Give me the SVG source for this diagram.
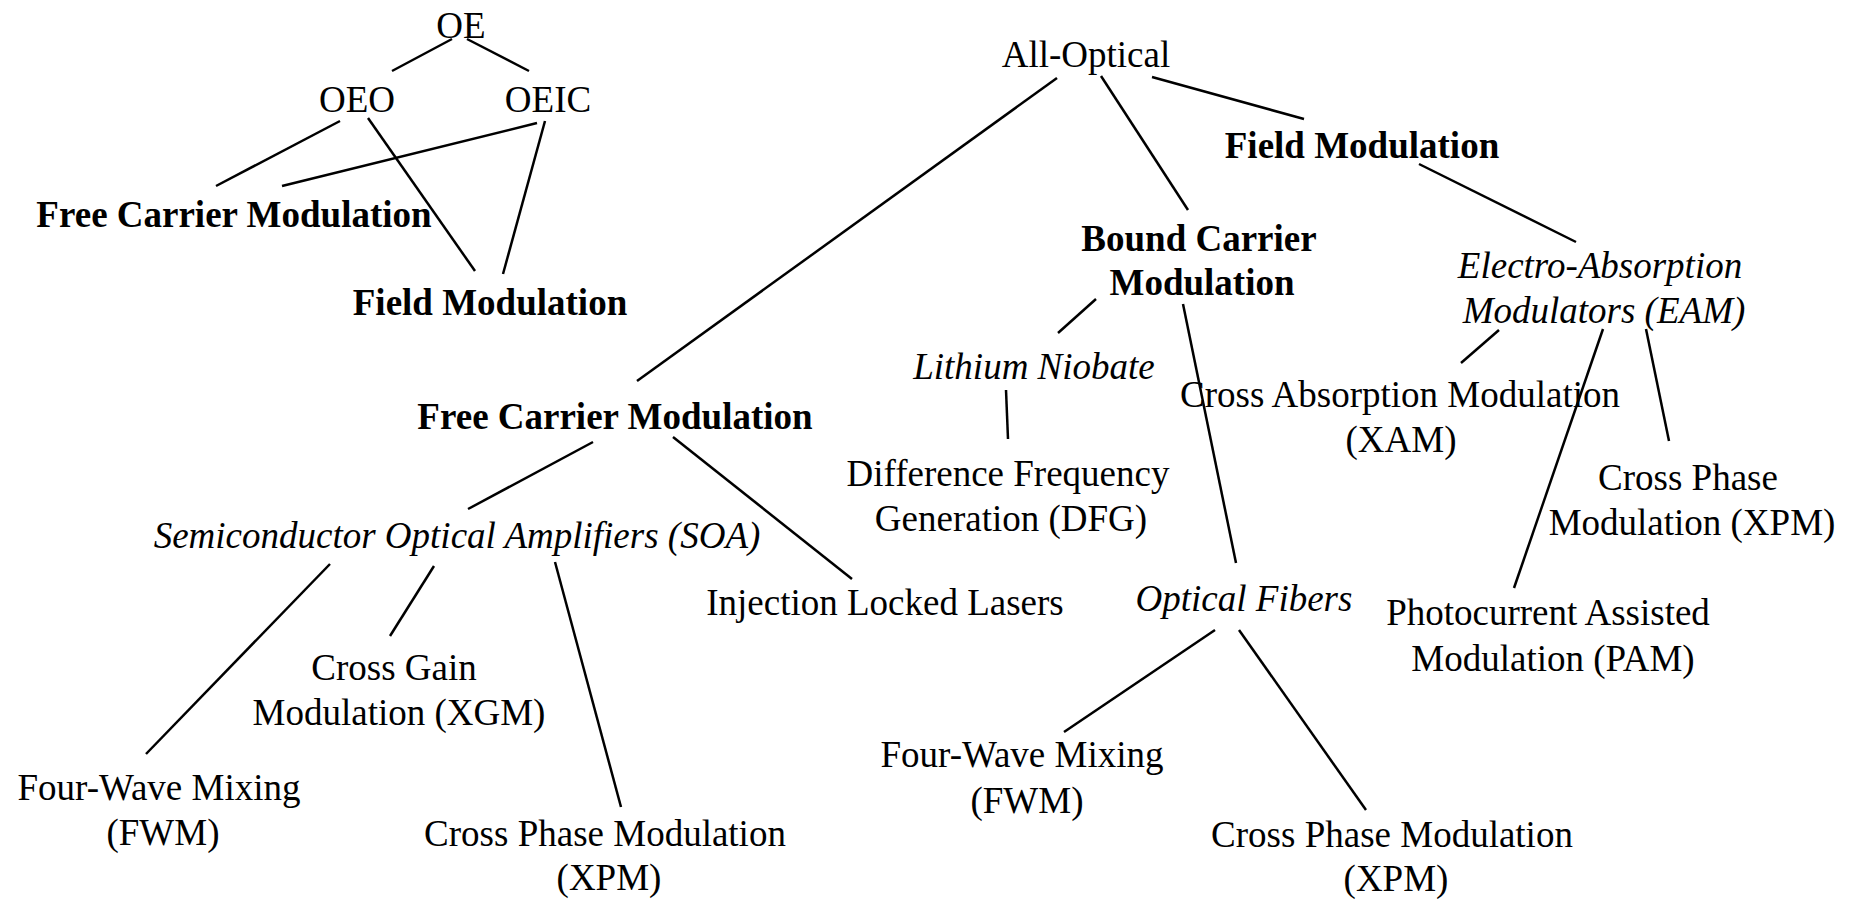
<svg xmlns="http://www.w3.org/2000/svg" width="1858" height="899" viewBox="0 0 1858 899">
<style>
text{font-family:"Liberation Serif","Times New Roman",serif;font-size:37px;fill:#000;text-anchor:middle}
.b{font-weight:bold}
.i{font-style:italic}
#edges line{stroke:#000;stroke-width:2.5;stroke-linecap:butt}
</style>
<rect width="1858" height="899" fill="#fff"/>
<g id="edges">
<line x1="452" y1="39" x2="392" y2="71"/>
<line x1="467" y1="39" x2="529" y2="71"/>
<line x1="340" y1="121" x2="216" y2="186"/>
<line x1="368" y1="118" x2="475" y2="271"/>
<line x1="537" y1="123" x2="282" y2="186"/>
<line x1="545" y1="121" x2="503" y2="274"/>
<line x1="1057" y1="78" x2="637" y2="381"/>
<line x1="1101" y1="76" x2="1188" y2="210"/>
<line x1="1152" y1="77" x2="1304" y2="119"/>
<line x1="1419" y1="164" x2="1576" y2="242"/>
<line x1="1096" y1="299" x2="1058" y2="333"/>
<line x1="1183" y1="304" x2="1236" y2="563"/>
<line x1="1006" y1="390" x2="1008" y2="439"/>
<line x1="1499" y1="330" x2="1461" y2="363"/>
<line x1="1603" y1="329" x2="1514" y2="588"/>
<line x1="1646" y1="329" x2="1669" y2="441"/>
<line x1="593" y1="442" x2="468" y2="509"/>
<line x1="673" y1="437" x2="852" y2="579"/>
<line x1="330" y1="564" x2="146" y2="754"/>
<line x1="434" y1="566" x2="390" y2="636"/>
<line x1="555" y1="562" x2="621" y2="807"/>
<line x1="1215" y1="630" x2="1064" y2="732"/>
<line x1="1239" y1="630" x2="1366" y2="810"/>
</g>
<g id="n-oe"><text x="461" y="38">OE</text></g>
<g id="n-oeo"><text x="357" y="112">OEO</text></g>
<g id="n-oeic"><text x="548" y="112">OEIC</text></g>
<g id="n-fcm1"><text class="b" x="234" y="227">Free Carrier Modulation</text></g>
<g id="n-fm1"><text class="b" x="490" y="315">Field Modulation</text></g>
<g id="n-allopt"><text x="1086" y="67">All-Optical</text></g>
<g id="n-fm2"><text class="b" x="1362" y="158">Field Modulation</text></g>
<g id="n-bcm"><text class="b" x="1199" y="251">Bound Carrier</text><text class="b" x="1202" y="295">Modulation</text></g>
<g id="n-eam"><text class="i" x="1600" y="278">Electro-Absorption</text><text class="i" x="1604" y="323">Modulators (EAM)</text></g>
<g id="n-ln"><text class="i" x="1034" y="379">Lithium Niobate</text></g>
<g id="n-xam"><text x="1400" y="407">Cross Absorption Modulation</text><text x="1401" y="452">(XAM)</text></g>
<g id="n-xpm3"><text x="1688" y="490">Cross Phase</text><text x="1692" y="535">Modulation (XPM)</text></g>
<g id="n-fcm2"><text class="b" x="615" y="429">Free Carrier Modulation</text></g>
<g id="n-dfg"><text x="1008" y="486">Difference Frequency</text><text x="1011" y="531">Generation (DFG)</text></g>
<g id="n-soa"><text class="i" x="457" y="548">Semiconductor Optical Amplifiers (SOA)</text></g>
<g id="n-ill"><text x="885" y="615">Injection Locked Lasers</text></g>
<g id="n-of"><text class="i" x="1244" y="611">Optical Fibers</text></g>
<g id="n-pam"><text x="1548" y="625">Photocurrent Assisted</text><text x="1553" y="671">Modulation (PAM)</text></g>
<g id="n-xgm"><text x="394" y="680">Cross Gain</text><text x="399" y="725">Modulation (XGM)</text></g>
<g id="n-fwm1"><text x="159" y="800">Four-Wave Mixing</text><text x="163" y="845">(FWM)</text></g>
<g id="n-xpm1"><text x="605" y="846">Cross Phase Modulation</text><text x="609" y="890">(XPM)</text></g>
<g id="n-fwm2"><text x="1022" y="767">Four-Wave Mixing</text><text x="1027" y="813">(FWM)</text></g>
<g id="n-xpm2"><text x="1392" y="847">Cross Phase Modulation</text><text x="1396" y="891">(XPM)</text></g>
</svg>
